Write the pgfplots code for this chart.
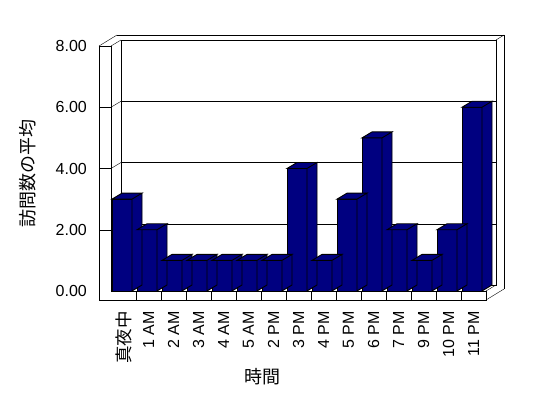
\documentclass[border=0pt]{standalone}
\usepackage{fontspec}
\setmainfont{Liberation Sans}
\newfontfamily\cjk{Noto Sans CJK JP}
\usepackage{pgfplots}
\usepackage{pgfplotstable}
\pgfplotsset{compat=1.18}
\definecolor{navybar}{RGB}{0,0,128}

% depth faces (top and right side) of a 3D bar, drawn at each data point
\pgfdeclareplotmark{bardepth}{%
  \pgfmathsetmacro\barh{\barval*30.625}%
  \pgfpathmoveto{\pgfpoint{-11.5bp}{0bp}}%
  \pgfpathlineto{\pgfpoint{-1.5bp}{6bp}}%
  \pgfpathlineto{\pgfpoint{18.5bp}{6bp}}%
  \pgfpathlineto{\pgfpoint{8.5bp}{0bp}}%
  \pgfpathclose
  \pgfpathmoveto{\pgfpoint{8.5bp}{0bp}}%
  \pgfpathlineto{\pgfpoint{18.5bp}{6bp}}%
  \pgfpathlineto{\pgfpoint{18.5bp}{6bp-\barh bp}}%
  \pgfpathlineto{\pgfpoint{8.5bp}{-\barh bp}}%
  \pgfpathclose
  \pgfusepath{fill,stroke}%
}

\pgfplotstableread{
x y
0 3
1 2
2 1
3 1
4 1
5 1
6 1
7 4
8 1
9 3
10 5
11 2
12 1
13 2
14 6
}\visits

\begin{document}
\begin{tikzpicture}[line width=0.9bp]
\useasboundingbox (0,0) rectangle (548bp,398bp);
\begin{axis}[
  at={(111bp,107bp)}, anchor=south west,
  scale only axis, width=375bp, height=245bp,
  xmin=-0.5, xmax=14.5, ymin=0, ymax=8,
  clip=false,
  axis line style={draw=none},
  major tick length=0pt,
  ytick={0,2,4,6,8},
  yticklabels={0.00,2.00,4.00,6.00,8.00},
  yticklabel style={anchor=east, inner sep=0pt, xshift=-24bp, font=\fontsize{16bp}{19bp}\selectfont},
  xtick={0,...,14},
  xticklabels={{\cjk\fontsize{17.5bp}{19bp}\selectfont 真夜中},1 AM,2 AM,3 AM,4 AM,5 AM,2 PM,3 PM,4 PM,5 PM,6 PM,7 PM,9 PM,10 PM,11 PM},
  xticklabel style={rotate=90, anchor=east, inner sep=0pt, xshift=-20bp, font=\fontsize{16bp}{19bp}\selectfont},
  xlabel={時間},
  ylabel={訪問数の平均},
  every axis x label/.style={at={([yshift=-86bp]axis description cs:0.403,0)}, anchor=center, font=\cjk\fontsize{18bp}{20bp}\selectfont},
  every axis y label/.style={at={([xshift=-83bp]axis description cs:0,0.48)}, rotate=90, anchor=center, font=\cjk\fontsize{18bp}{20bp}\selectfont},
]
% back wall (inner face), gridlines
\draw ([shift={(10bp,6bp)}]axis cs:-0.5,0) -- ([shift={(10bp,6bp)}]axis cs:-0.5,8) -- ([shift={(10bp,6bp)}]axis cs:14.5,8) -- ([shift={(10bp,6bp)}]axis cs:14.5,0) -- cycle;
\pgfplotsinvokeforeach{2,4,6}{
  \draw ([shift={(10bp,6bp)}]axis cs:-0.5,#1) -- ([shift={(10bp,6bp)}]axis cs:14.5,#1);
}
% back wall outer edge
\draw ([shift={(6bp,11bp)}]axis cs:-0.5,8) -- ([shift={(18bp,11bp)}]axis cs:14.5,8) -- ([shift={(18bp,2bp)}]axis cs:14.5,0);
\draw ([shift={(10bp,6bp)}]axis cs:14.5,8) -- ([shift={(18bp,11bp)}]axis cs:14.5,8);
% left wall: inner front edge, diagonals, ticks on slab face
\draw (axis cs:-0.5,0) -- (axis cs:-0.5,8);
\pgfplotsinvokeforeach{0,2,4,6,8}{
  \draw (axis cs:-0.5,#1) -- ([shift={(10bp,6bp)}]axis cs:-0.5,#1);
}
\pgfplotsinvokeforeach{2,4,6,8}{
  \draw ([xshift=-12bp]axis cs:-0.5,#1) -- (axis cs:-0.5,#1);
}
% left wall outer edge and top
\draw ([xshift=-12bp]axis cs:-0.5,8) -- ([xshift=-12bp,yshift=-9bp]axis cs:-0.5,0);
\draw ([xshift=-12bp]axis cs:-0.5,8) -- ([shift={(6bp,11bp)}]axis cs:-0.5,8);

% bars: depth faces then front faces
\addplot[scatter, only marks, mark=bardepth,
  visualization depends on={rawy \as \barval},
  scatter/use mapped color={draw=black, fill=navybar},
  mark options={line width=0.9bp}] table[x=x, y=y] {\visits};
\addplot[ybar, bar width=20bp, bar shift=-1.5bp, fill=navybar, draw=black, line width=0.9bp] table[x=x, y=y] {\visits};

% floor slab
\draw (axis cs:-0.5,0) -- (axis cs:14.5,0);
\draw ([xshift=-12bp,yshift=-9bp]axis cs:-0.5,0) -- ([yshift=-9bp]axis cs:14.5,0) -- (axis cs:14.5,0);
\pgfplotsinvokeforeach{0.5,1.5,2.5,3.5,4.5,5.5,6.5,7.5,8.5,9.5,10.5,11.5,12.5,13.5}{
  \draw (axis cs:#1,0) -- ([yshift=-9bp]axis cs:#1,0);
}
\draw (axis cs:14.5,0) -- ([shift={(10bp,6bp)}]axis cs:14.5,0);
\draw ([yshift=-9bp]axis cs:14.5,0) -- ([shift={(18bp,2bp)}]axis cs:14.5,0);
\end{axis}
\end{tikzpicture}
\end{document}
